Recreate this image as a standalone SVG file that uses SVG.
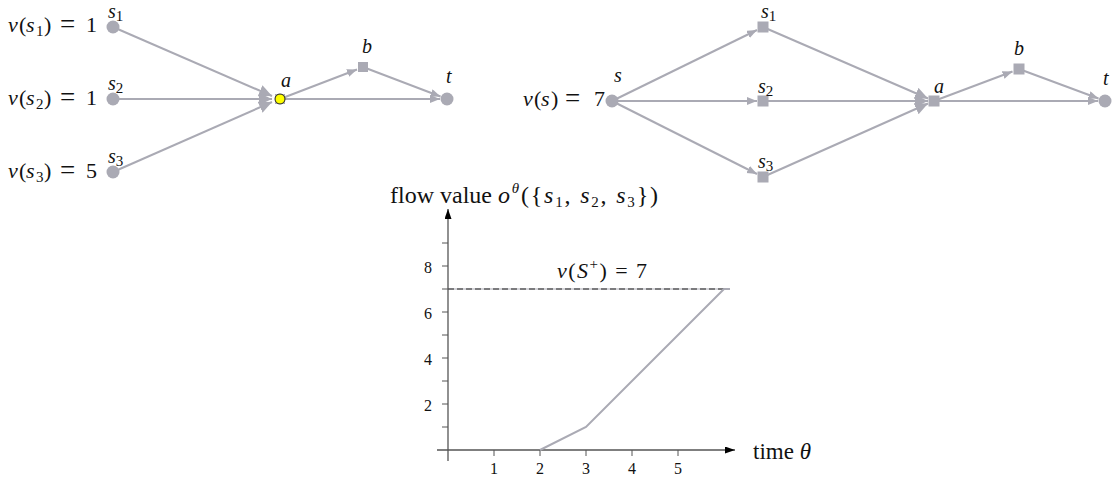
<svg xmlns="http://www.w3.org/2000/svg" width="1113" height="481" viewBox="0 0 1113 481">
<style>
text{font-family:"Liberation Serif","DejaVu Serif",serif;fill:#111;}
.m{font-size:22px;}
.lb{font-size:20px;}
.it{font-style:italic;}
.sub{font-size:15px;}
.eq{font-size:27px;}
.tk{font-size:16px;text-anchor:middle;}
.e{stroke:#aaaab4;stroke-width:2;fill:none;}
.es{marker-end:url(#sm);}
.eb{marker-end:url(#bg);}
.nc{fill:#aaaab4;}
.ax{stroke:#555;stroke-width:1.3;fill:none;}
</style>
<defs>
<marker id="sm" markerUnits="userSpaceOnUse" markerWidth="12" markerHeight="10" refX="10" refY="4" orient="auto"><path d="M0,0 L10,4 L0,8 z" fill="#aaaab4"/></marker>
<marker id="bg" markerUnits="userSpaceOnUse" markerWidth="14" markerHeight="14" refX="13" refY="6" orient="auto"><path d="M0,0 L13,6 L0,12 z" fill="#aaaab4"/></marker>
<marker id="ah" markerUnits="userSpaceOnUse" markerWidth="12" markerHeight="10" refX="10" refY="3.5" orient="auto"><path d="M0,0 L10,3.5 L0,7 z" fill="#000"/></marker>
</defs>

<g id="connectors">
<line class="e eb" x1="113" y1="27" x2="272" y2="96"/>
<line class="e eb" x1="113" y1="99" x2="272" y2="99"/>
<line class="e eb" x1="113" y1="172" x2="272" y2="102"/>
<line class="e es" x1="280" y1="99" x2="357" y2="69.5"/>
<line class="e es" x1="363" y1="67" x2="440.5" y2="96.5"/>
<line class="e es" x1="280" y1="99" x2="440" y2="99"/>

<line class="e es" x1="612" y1="101" x2="757" y2="30"/>
<line class="e es" x1="612" y1="101" x2="757" y2="101"/>
<line class="e es" x1="612" y1="101" x2="757" y2="174"/>
<line class="e eb" x1="763" y1="27" x2="928" y2="98.5"/>
<line class="e eb" x1="763" y1="101" x2="928" y2="101"/>
<line class="e eb" x1="763" y1="177" x2="928" y2="103.5"/>
<line class="e es" x1="934" y1="101" x2="1012.5" y2="71.5"/>
<line class="e es" x1="1019" y1="69" x2="1098.5" y2="98.5"/>
<line class="e es" x1="934" y1="101" x2="1098" y2="101"/>
</g>

<g id="left-s1"><circle class="nc" cx="113" cy="27" r="6.5"/>
<text class="lb it" x="108" y="18">s<tspan class="sub" font-style="normal" dy="3">1</tspan></text>
<text class="m" y="32"><tspan class="it" x="8">v</tspan><tspan x="19">(</tspan><tspan class="it" x="26">s</tspan><tspan class="sub" x="36" dy="4">1</tspan><tspan x="44" dy="-4">)</tspan><tspan class="eq" x="60" dy="1">=</tspan><tspan x="86" dy="-1">1</tspan></text></g>
<g id="left-s2"><circle class="nc" cx="113" cy="99" r="6.5"/>
<text class="lb it" x="108" y="90">s<tspan class="sub" font-style="normal" dy="3">2</tspan></text>
<text class="m" y="105"><tspan class="it" x="8">v</tspan><tspan x="19">(</tspan><tspan class="it" x="26">s</tspan><tspan class="sub" x="36" dy="4">2</tspan><tspan x="44" dy="-4">)</tspan><tspan class="eq" x="60" dy="1">=</tspan><tspan x="86" dy="-1">1</tspan></text></g>
<g id="left-s3"><circle class="nc" cx="113" cy="172" r="6.5"/>
<text class="lb it" x="108" y="163">s<tspan class="sub" font-style="normal" dy="3">3</tspan></text>
<text class="m" y="178"><tspan class="it" x="8">v</tspan><tspan x="19">(</tspan><tspan class="it" x="26">s</tspan><tspan class="sub" x="36" dy="4">3</tspan><tspan x="44" dy="-4">)</tspan><tspan class="eq" x="60" dy="1">=</tspan><tspan x="86" dy="-1">5</tspan></text></g>
<g id="left-a"><rect class="nc" x="275" y="94" width="10" height="10"/><circle cx="280" cy="99" r="5" fill="#ffff00" stroke="#222" stroke-width="1"/>
<text class="lb it" x="281" y="87">a</text></g>
<g id="left-b"><rect class="nc" x="358" y="62" width="10" height="10"/>
<text class="lb it" x="362" y="53">b</text></g>
<g id="left-t"><circle class="nc" cx="447" cy="99" r="6.5"/>
<text class="lb it" x="446" y="83">t</text></g>

<g id="right-s"><circle class="nc" cx="612" cy="101" r="6.5"/>
<text class="lb it" x="614" y="82">s</text>
<text class="m" y="106"><tspan class="it" x="523">v</tspan><tspan x="534">(</tspan><tspan class="it" x="541">s</tspan><tspan x="551">)</tspan><tspan class="eq" x="565" dy="1">=</tspan><tspan x="594" dy="-1">7</tspan></text></g>
<g id="right-s1"><rect class="nc" x="757.5" y="21.5" width="11" height="11"/>
<text class="lb it" x="761" y="18">s<tspan class="sub" font-style="normal" dy="3">1</tspan></text></g>
<g id="right-s2"><rect class="nc" x="757.5" y="95.5" width="11" height="11"/>
<text class="lb it" x="758" y="93">s<tspan class="sub" font-style="normal" dy="3">2</tspan></text></g>
<g id="right-s3"><rect class="nc" x="757.5" y="171.5" width="11" height="11"/>
<text class="lb it" x="758" y="168">s<tspan class="sub" font-style="normal" dy="3">3</tspan></text></g>
<g id="right-a"><rect class="nc" x="928.5" y="95.5" width="11" height="11"/>
<text class="lb it" x="934" y="93">a</text></g>
<g id="right-b"><rect class="nc" x="1013.5" y="63.5" width="11" height="11"/>
<text class="lb it" x="1014" y="55">b</text></g>
<g id="right-t"><circle class="nc" cx="1105" cy="101" r="6.5"/>
<text class="lb it" x="1103" y="85">t</text></g>

<g id="chart">
<line class="ax" x1="448" y1="461" x2="448" y2="209" marker-end="url(#ah)"/>
<line class="ax" x1="437" y1="450" x2="735" y2="450" marker-end="url(#ah)"/>
<g stroke="#555" stroke-width="1">
<line x1="442" y1="427" x2="448" y2="427"/><line x1="442" y1="404" x2="448" y2="404"/>
<line x1="442" y1="381" x2="448" y2="381"/><line x1="442" y1="358" x2="448" y2="358"/>
<line x1="442" y1="335" x2="448" y2="335"/><line x1="442" y1="312" x2="448" y2="312"/>
<line x1="442" y1="289" x2="448" y2="289"/><line x1="442" y1="266" x2="448" y2="266"/>
<line x1="442" y1="243" x2="448" y2="243"/>
<line x1="494" y1="450" x2="494" y2="456"/><line x1="540" y1="450" x2="540" y2="456"/>
<line x1="586" y1="450" x2="586" y2="456"/><line x1="632" y1="450" x2="632" y2="456"/>
<line x1="678" y1="450" x2="678" y2="456"/>
</g>
<text class="tk" x="428" y="273">8</text>
<text class="tk" x="428" y="319">6</text>
<text class="tk" x="428" y="365">4</text>
<text class="tk" x="428" y="411">2</text>
<text class="tk" x="494" y="474">1</text>
<text class="tk" x="540" y="474">2</text>
<text class="tk" x="586" y="474">3</text>
<text class="tk" x="632" y="474">4</text>
<text class="tk" x="678" y="474">5</text>
<line x1="448" y1="289" x2="730" y2="289" stroke="#aaaab4" stroke-width="1.2"/>
<line x1="448" y1="289" x2="730" y2="289" stroke="#222" stroke-width="1" stroke-dasharray="6,3"/>
<polyline points="540,450 586,427 724,289 730,289" stroke="#aaaab4" stroke-width="2" fill="none"/>
<text x="390" y="203" font-size="24">flow value</text>
<text x="498" y="203" font-size="24" textLength="160" lengthAdjust="spacing"><tspan class="it">o</tspan><tspan class="sub it" font-size="16" dy="-10">θ</tspan><tspan dy="10">({</tspan><tspan class="it">s</tspan><tspan class="sub" font-size="16" dy="4">1</tspan><tspan dy="-4">, </tspan><tspan class="it">s</tspan><tspan class="sub" font-size="16" dy="4">2</tspan><tspan dy="-4">, </tspan><tspan class="it">s</tspan><tspan class="sub" font-size="16" dy="4">3</tspan><tspan dy="-4">})</tspan></text>
<text x="557" y="278" font-size="22" textLength="90" lengthAdjust="spacing"><tspan class="it">v</tspan>(<tspan class="it">S</tspan><tspan class="sub" dy="-9">+</tspan><tspan dy="9">) = 7</tspan></text>
<text x="753" y="459" font-size="23">time <tspan class="it">θ</tspan></text>
</g>
</svg>
